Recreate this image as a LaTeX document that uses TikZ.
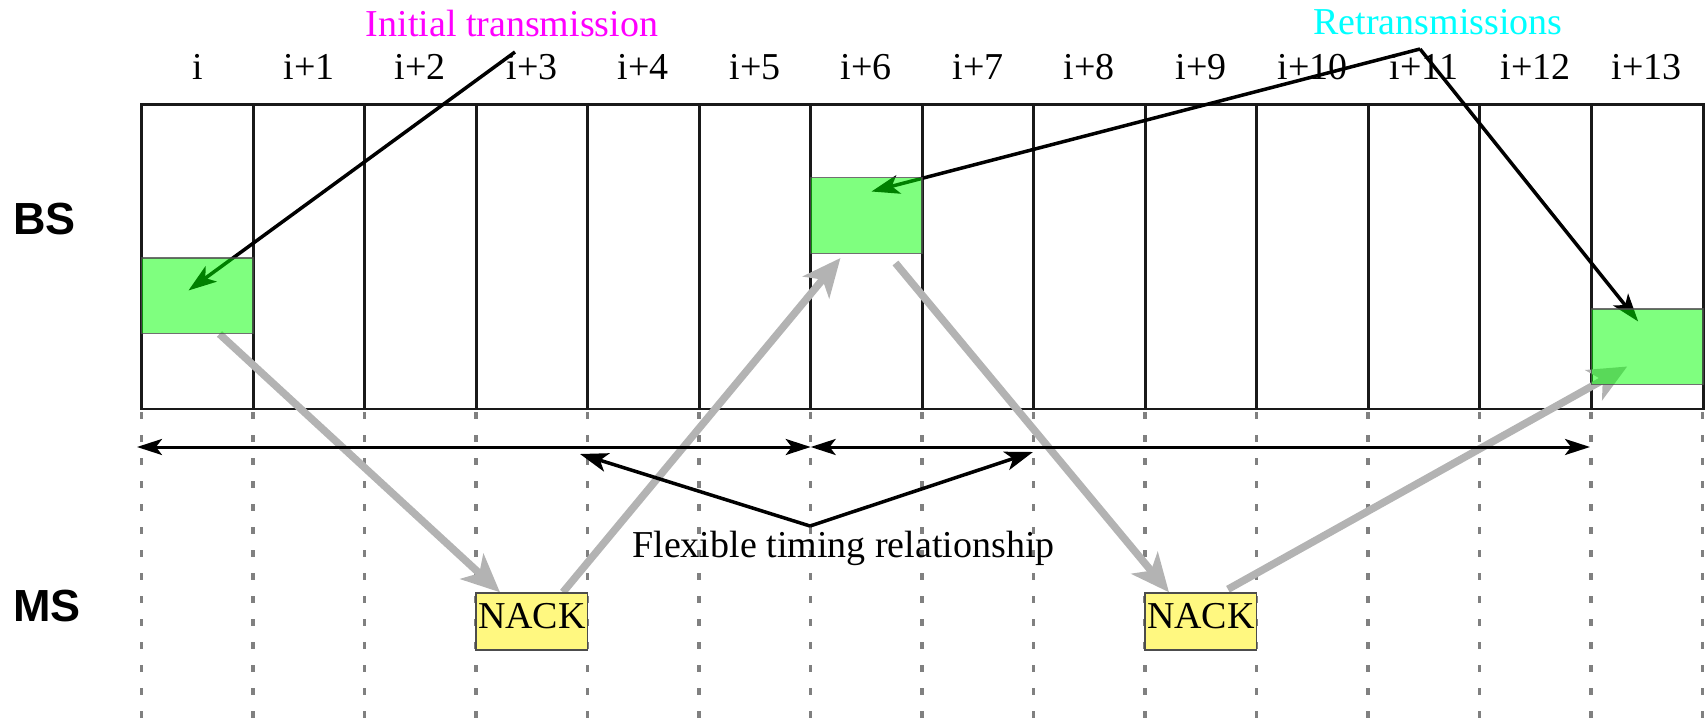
\documentclass[tikz,border=0pt]{standalone}
\usepackage{fontspec}
\setmainfont{Liberation Serif}
\setsansfont{Liberation Sans}
\usetikzlibrary{arrows.meta}
\pgfdeclarelayer{under}
\pgfsetlayers{under,main}
\definecolor{fbgrey}{HTML}{B3B3B3}
\definecolor{initcol}{RGB}{255,0,255}
\definecolor{retcol}{RGB}{0,255,255}
\begin{document}
\begin{tikzpicture}[x=1pt,y=-1pt,
  lab/.style={font=\fontsize{38}{40}\selectfont, anchor=base, inner sep=0pt},
  side/.style={font=\sffamily\bfseries\fontsize{45}{48}\selectfont, anchor=base west, inner sep=0pt},
  gridline/.style={draw=black!90, line width=2.7pt},
  guide/.style={draw=black!50, line width=3.5pt, dash pattern=on 7pt off 16pt},
  pointer/.style={draw=black, line width=3.5pt, -{Stealth[length=28pt,width=19pt,inset=7pt]}},
  feedback/.style={draw=fbgrey, line width=7.5pt, -{Stealth[length=38pt,width=34pt,inset=10pt]}},
  span/.style={draw=black, line width=3pt, {Stealth[length=25pt,width=16pt,inset=6pt]}-{Stealth[length=25pt,width=16pt,inset=6pt]}},
  packet/.style={draw=black!70, draw opacity=0.8, line width=1.5pt, fill=green, fill opacity=0.5, minimum width=111.5pt, minimum height=75.5pt, inner sep=0pt},
  nack/.style={draw=black!70, line width=1.5pt, fill=yellow!50, minimum width=111.5pt, minimum height=57pt, inner sep=0pt, text depth=12pt, font=\fontsize{38}{40}\selectfont}
]
\useasboundingbox (0,0) rectangle (1708,722);

% side labels
\node[side] (bs) at (13,235) {BS};
\node[side] (ms) at (13,621.7) {MS};

% column labels
\foreach \k/\t in {0/i,1/i+1,2/i+2,3/i+3,4/i+4,5/i+5,6/i+6,7/i+7,8/i+8,9/i+9,10/i+10,11/i+11,12/i+12,13/i+13}
  \node[lab] (c\k) at ({141.7+111.5*(\k+0.5)},80) {\t};

\node[lab, text=initcol] (initlab) at (512,37) {Initial transmission};
\node[lab, text=retcol] (retlab) at (1438,35) {Retransmissions};
\node[lab] (flex) at (843.5,557) {Flexible timing relationship};

% packets and NACKs
\node[packet] (g1) at (197.45,295.5) {};
\node[packet] (g2) at (866.45,215.5) {};
\node[packet] (g3) at (1647.2,346.5) {};
\node[nack] (n1) at (531.95,621.5) {NACK};
\node[nack] (n2) at (1200.95,621.5) {NACK};

% free ends
\coordinate (initstart) at (515,52);
\coordinate (retapex) at (1420,49);
\coordinate (flexapex) at (810,526);
\coordinate (flexL) at (580,454);
\coordinate (flexR) at (1033,452);
\coordinate (s0) at (137,447);
\coordinate (s6) at (810.7,447);
\coordinate (s13) at (1590,447);

\begin{pgfonlayer}{under}
  \draw[gridline] (141.7,104.5) rectangle (1703.3,409);
  \foreach \k in {1,...,13}
    \draw[gridline] ({141.7+111.5*\k},104.5) -- ({141.7+111.5*\k},409);
  \foreach \k in {0,...,14}
    \draw[guide] ({141.7+111.5*\k},412) -- ({141.7+111.5*\k},722);

  % HARQ feedback loop
  \draw[feedback] ([xshift=22pt]g1.south) -- ([xshift=-32pt]n1.north);
  \draw[feedback] ([xshift=31pt]n1.north) -- ([xshift=-26pt,yshift=-4pt]g2.south);
  \draw[feedback] ([xshift=29pt,yshift=-9pt]g2.south) -- ([xshift=-32pt]n2.north);
  \draw[feedback] ([xshift=27pt,yshift=3pt]n2.north) -- ([xshift=-20pt,yshift=-20pt]g3.center);

  % timing spans
  \draw[span] (s0) -- (s6);
  \draw[span] (s6) -- (s13);

  % pointers
  \draw[pointer] (initstart) -- ([xshift=-9pt,yshift=5pt]g1.center);
  \draw[pointer] (retapex) -- ([xshift=5pt,yshift=24pt]g2.center);
  \draw[pointer] (retapex) -- ([xshift=-9pt,yshift=25pt]g3.center);
  \draw[pointer] (flexapex) -- (flexL);
  \draw[pointer] (flexapex) -- (flexR);
\end{pgfonlayer}
\end{tikzpicture}
\end{document}
